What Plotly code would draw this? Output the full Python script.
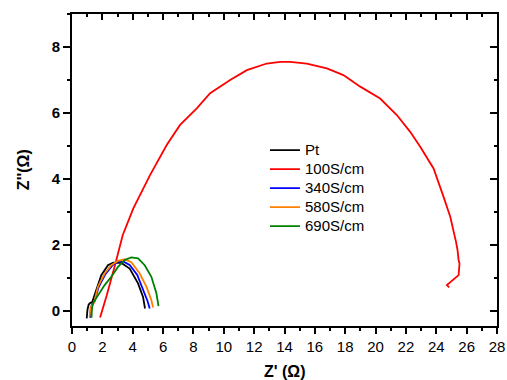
import plotly.graph_objects as go

# ---- data ----
names = ["Pt", "100S/cm", "340S/cm", "580S/cm", "690S/cm"]
colors = ["#000000", "#FF0000", "#0000FF", "#FF8000", "#008000"]

pt_x = [0.97, 1.02, 1.10, 1.22, 1.32, 1.60, 1.93, 2.37, 2.72, 3.25, 3.80, 4.35, 4.68, 4.81]
pt_y = [-0.22, 0.05, 0.20, 0.26, 0.26, 0.64, 1.09, 1.39, 1.47, 1.46, 1.29, 0.84, 0.43, 0.08]

s100_x = [1.85, 2.29, 2.83, 3.34, 4.04, 5.14, 6.24, 7.12, 8.22, 9.10, 10.42, 11.52, 12.83,
          13.71, 14.37, 15.47, 16.79, 17.88, 18.99, 20.30, 21.40, 22.28, 22.94, 23.82,
          24.48, 24.92, 25.30, 25.40, 25.47, 25.53, 25.47, 24.92, 24.70, 24.85]
s100_y = [-0.19, 0.48, 1.39, 2.30, 3.11, 4.12, 5.03, 5.64, 6.14, 6.60, 7.00, 7.30, 7.50,
          7.55, 7.55, 7.50, 7.35, 7.15, 6.80, 6.44, 5.94, 5.43, 4.98, 4.32,
          3.46, 2.86, 2.10, 1.85, 1.55, 1.44, 1.09, 0.86, 0.79, 0.72]

s340_x = [1.20, 1.25, 1.35, 1.48, 1.75, 2.20, 2.65, 3.05, 3.40, 3.80, 4.30, 4.70, 4.98, 5.12]
s340_y = [-0.20, 0.12, 0.22, 0.28, 0.72, 1.12, 1.38, 1.50, 1.50, 1.40, 1.10, 0.65, 0.30, 0.08]

s580_x = [1.16, 1.22, 1.32, 1.45, 1.71, 2.15, 2.59, 3.03, 3.47, 3.91, 4.46, 4.90, 5.23, 5.34]
s580_y = [-0.17, 0.10, 0.18, 0.25, 0.74, 1.14, 1.39, 1.52, 1.57, 1.48, 1.14, 0.74, 0.33, 0.11]

s690_x = [1.28, 1.32, 1.40, 1.71, 2.15, 2.59, 3.03, 3.47, 3.91, 4.35, 4.79, 5.23, 5.56, 5.70]
s690_y = [-0.20, 0.10, 0.25, 0.48, 0.79, 1.04, 1.34, 1.55, 1.63, 1.60, 1.39, 1.04, 0.54, 0.15]

x_ticks = list(range(0, 29, 2))
y_ticks = [0, 2, 4, 6, 8]

series = [(pt_x, pt_y), (s100_x, s100_y), (s340_x, s340_y), (s580_x, s580_y), (s690_x, s690_y)]

fig = go.Figure()
for (xs, ys), n, c in zip(series, names, colors):
    fig.add_trace(go.Scatter(x=xs, y=ys, mode="lines",
                             name=f'<span style="font-size:15px">{n}</span>',
                             line=dict(color=c, width=1.8)))

font_family = "Liberation Sans, Arial, sans-serif"
xr = [0, 28]
yr = [-0.45, 9.0]

common = dict(showgrid=False, zeroline=False, showline=True, linecolor="black",
              linewidth=2, tickcolor="black", tickwidth=1.5, automargin=False)
minor_out = dict(dtick=1, tick0=0, ticks="outside", ticklen=3, tickcolor="black", tickwidth=1.5)
minor_in = dict(dtick=1, tick0=0, ticks="inside", ticklen=3, tickcolor="black", tickwidth=1.5)

fig.update_layout(
    width=507, height=380,
    margin=dict(l=72, r=10, t=14, b=54),
    paper_bgcolor="white", plot_bgcolor="white",
    font=dict(family=font_family, size=15, color="black"),
    showlegend=True,
    legend=dict(x=0.454, y=0.61, xanchor="left", yanchor="top",
                bgcolor="rgba(0,0,0,0)", font=dict(size=12), tracegroupgap=0),
    xaxis=dict(range=xr, tickvals=x_ticks, ticks="outside", ticklen=6, minor=minor_out,
               tickfont=dict(size=15), **common),
    yaxis=dict(range=yr, tickvals=y_ticks, ticktext=[f"<b>{v}</b>" for v in y_ticks],
               ticks="outside", ticklen=7, minor=minor_out,
               tickfont=dict(size=15), **common),
    xaxis2=dict(range=xr, overlaying="x", side="top", tickvals=x_ticks, ticks="inside",
                ticklen=6, showticklabels=False, minor=minor_in, **common),
    yaxis2=dict(range=yr, overlaying="y", side="right", tickvals=y_ticks, ticks="inside",
                ticklen=7, showticklabels=False, minor=minor_in, **common),
    annotations=[
        dict(text="<b>Z' (Ω)</b>", xref="paper", yref="paper", x=0.5, y=-0.145,
             xanchor="center", yanchor="middle", showarrow=False, font=dict(size=16)),
        dict(text="<b>Z''(Ω)</b>", xref="paper", yref="paper", x=-0.115, y=0.5,
             xanchor="center", yanchor="middle", showarrow=False, textangle=-90,
             font=dict(size=16)),
    ],
)
# invisible trace to activate the mirror axes
fig.add_trace(go.Scatter(x=[0], y=[0], xaxis="x2", yaxis="y2", mode="markers",
                         marker=dict(opacity=0), showlegend=False, hoverinfo="skip"))

fig.write_html("out.html", config={"displayModeBar": False},
               post_script="document.body.style.margin='0';")
